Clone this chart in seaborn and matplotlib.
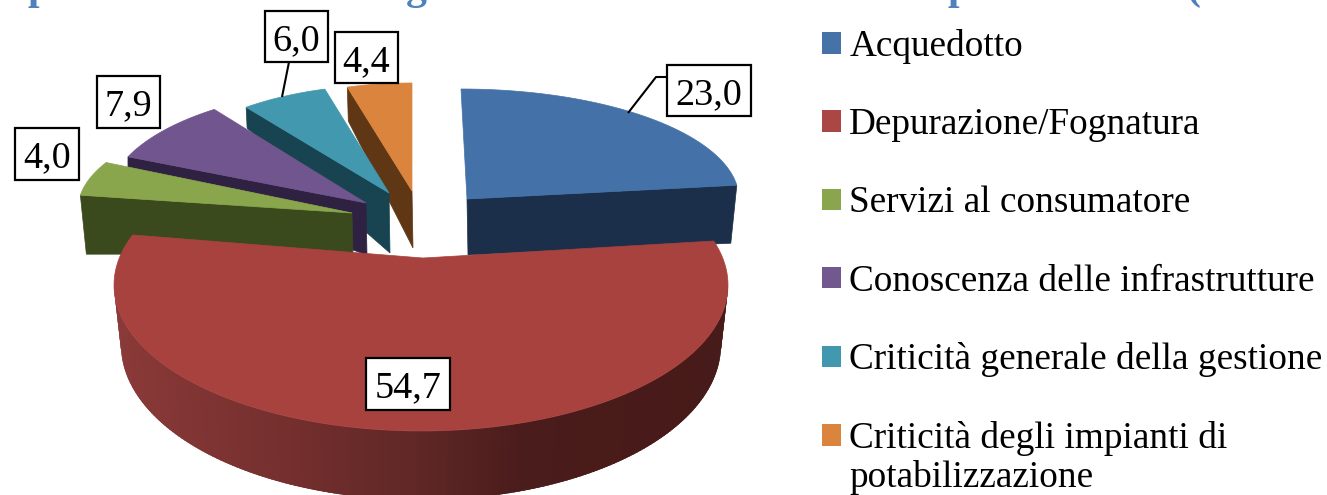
import numpy as np
import matplotlib
matplotlib.use("Agg")
import matplotlib.pyplot as plt
from matplotlib.patches import Patch, Rectangle, Polygon
from matplotlib.colors import to_rgb
import seaborn as sns

# ---- data ----
categories = ["Acquedotto", "Depurazione/Fognatura", "Servizi al consumatore",
              "Conoscenza delle infrastrutture", "Criticità generale della gestione",
              "Criticità degli impianti di\npotabilizzazione"]
values = [23.0, 54.7, 4.0, 7.9, 6.0, 4.4]

# ---- style ----
sns.set_theme(style="white")
plt.rcParams['font.family'] = ['Liberation Serif', 'DejaVu Sans']
top_cols = sns.color_palette(["#4472a8", "#a8423f", "#8aa64d", "#71558e", "#4198af", "#db843d"])
side_cols = sns.color_palette(["#1b2f4a", "#4a1c1b", "#3b4a1d", "#2f2142", "#174450", "#5f3714"])
legend_cols = sns.color_palette(["#4573a7", "#aa4644", "#89a54e", "#71588f", "#4198af", "#db843d"])
FS = 26.8
FS_LABEL = 27.5

# 3-D layout of each exploded slice, in canvas pixels
# apex, arc centre, rx, ry, angular perspective gain
layout = [
    dict(apex=(467, 199), c=(461, 199), rx=278, ry=110, gain=1.0),
    dict(apex=(423, 258), c=(421, 285), rx=307, ry=146, gain=1.105),
    dict(apex=(352, 213), c=(350, 209), rx=272, ry=105, gain=1.3),
    dict(apex=(366, 203), c=(366, 200), rx=258, ry=112, gain=1.1),
    dict(apex=(389, 193), c=(389, 193), rx=235, ry=108, gain=1.0),
    dict(apex=(412, 191), c=(412, 191), rx=237, ry=108, gain=1.0),
]
# radial side face: which edge shows, apex depth, outer depth, outer shift in x
side_face = {0: ('end', 56, 58, -6), 2: ('start', 41, 59, 6), 3: ('start', 52, 12, 0),
             4: ('start', 60, 21, 1), 5: ('start', 57, 34, 1)}
box_rects = [(667, 65, 84, 51), (366, 358, 84, 52), (15, 128, 64, 52),
             (97, 76, 63, 52), (265, 11, 63, 51), (335, 32, 63, 51)]
leaders = [[(668, 77), (656, 77), (628, 113)], None, None, None, [(289, 62), (282, 97)], None]
title_bits = [("p", 28), ("g", 406), ("p", 948), ("(", 1186)]

fig = plt.figure(figsize=(13.27, 4.95), dpi=100)
ax = fig.add_axes([0, 0, 1, 1])
ax.set_xlim(0, 1327)
ax.set_ylim(495, 0)
ax.axis("off")

# slice angles from the values, clockwise from 12 o'clock
edges = np.concatenate([[0], np.cumsum(values)]) / np.sum(values) * 360.0


def arc(i, n=120):
    L = layout[i]
    a0, a1 = edges[i], edges[i + 1]
    m, h = (a0 + a1) / 2, (a1 - a0) / 2 * L['gain']
    t = np.radians(np.linspace(m - h, m + h, n))
    return L['c'][0] + L['rx'] * np.sin(t), L['c'][1] - L['ry'] * np.cos(t), t


def draw_slice(i):
    L = layout[i]
    x, y, t = arc(i)
    if i in side_face:
        which, d_apex, d_out, sx = side_face[i]
        k = 0 if which == 'start' else -1
        ax.add_patch(Polygon([L['apex'], (x[k], y[k]), (x[k] + sx, y[k] + d_out),
                              (L['apex'][0] + 1, L['apex'][1] + d_apex)],
                             closed=True, fc=side_cols[i], ec=side_cols[i], lw=0.5))
    if i == 1:
        # curved front wall of the large slice, shaded left to right
        cx, cy = L['c']
        tt = np.radians(np.linspace(270, 90, 181))
        stops_x = [115, 300, 420, 520, 730]
        stops = np.array([to_rgb(c) for c in ["#8a3a38", "#722e2d", "#5e2726", "#4a1c1b", "#471b19"]])
        for j in range(len(tt) - 1):
            ta, tb = tt[j], tt[j] - 0.04
            xa, xb = cx + L['rx'] * np.sin(ta), cx + L['rx'] * np.sin(tb)
            quad = [(xa, cy - L['ry'] * np.cos(ta)), (xb, cy - L['ry'] * np.cos(tb)),
                    (cx + 300 * np.sin(tb), 345 - 155 * np.cos(tb)),
                    (cx + 300 * np.sin(ta), 345 - 155 * np.cos(ta))]
            col = [np.interp(xa, stops_x, stops[:, q]) for q in range(3)]
            ax.add_patch(Polygon(quad, closed=True, fc=col, ec="none", lw=0))
    ax.add_patch(Polygon(np.vstack([[L['apex']], np.column_stack([x, y])]), closed=True,
                         fc=top_cols[i], ec=top_cols[i], lw=0.5))


for i in [5, 4, 3, 2, 0, 1]:
    draw_slice(i)

# data labels
for v, r, ld in zip(values, box_rects, leaders):
    if ld:
        ax.plot(*zip(*ld), color="black", lw=1.5, solid_capstyle="butt", zorder=4)
    ax.add_patch(Rectangle(r[:2], r[2], r[3], fc="white", ec="black", lw=1.6, zorder=5))
    ax.text(r[0] + r[2] / 2, r[1] + r[3] / 2 + 13.5, f"{v:.1f}".replace(".", ","), fontsize=FS_LABEL,
            ha="center", va="baseline", color="black", zorder=6)

# legend
handles = [Patch(fc=c, ec="none") for c in legend_cols]
labels = [c.split("\n")[0] for c in categories]
ax.legend(handles, labels, loc="upper left", bbox_to_anchor=(822, 29), bbox_transform=ax.transData,
          frameon=False, fontsize=FS, borderpad=0, borderaxespad=0, labelspacing=1.175,
          handlelength=0.51, handleheight=0.51, handletextpad=0.22, labelcolor="black")
ax.text(849, 487, categories[5].split("\n")[1], fontsize=FS, ha="left", va="baseline", color="black")

# top of the cropped title: only the descenders are inside the picture
for s, px in title_bits:
    ax.text(px, -1, s, fontsize=30, fontweight="bold", color="#4f81bd", ha="left", va="baseline")

fig.savefig("out.png", dpi=100, facecolor="white")
